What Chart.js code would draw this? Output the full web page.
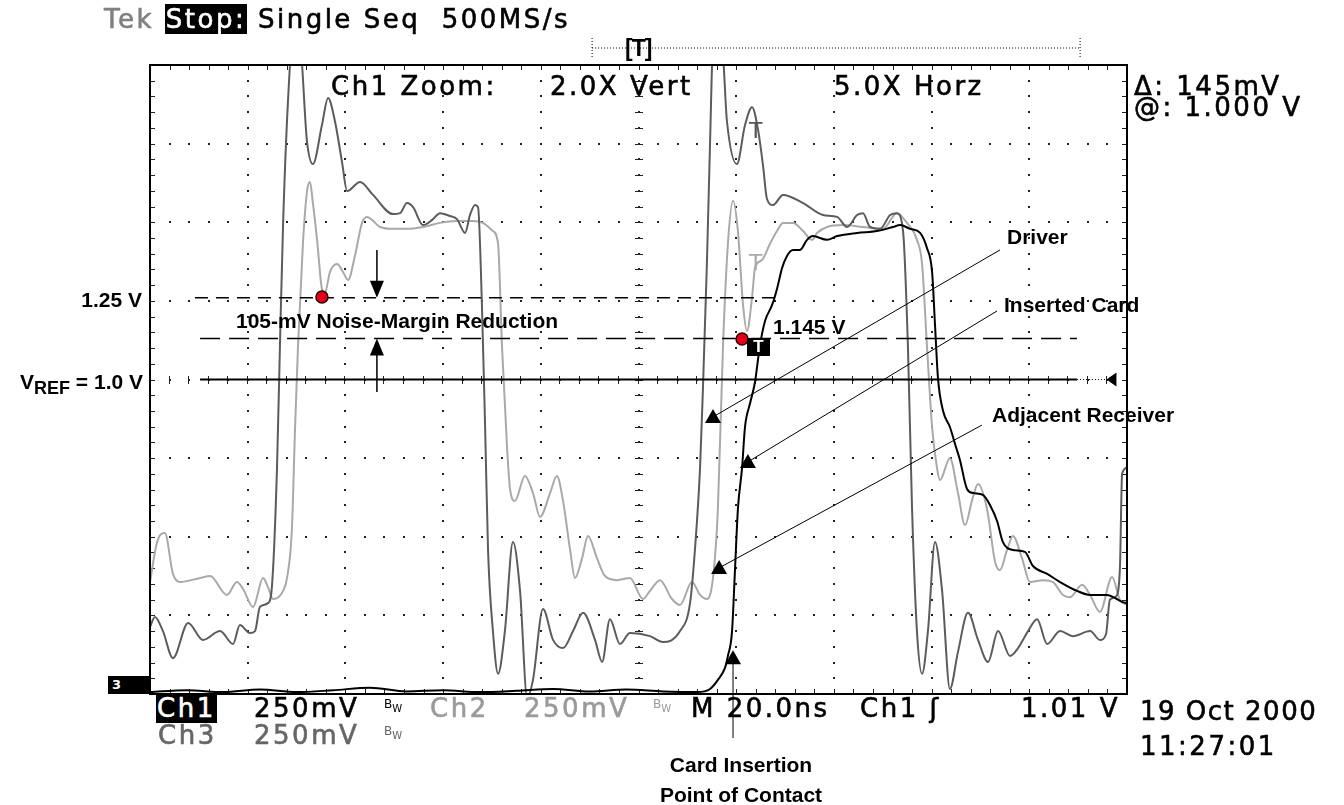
<!DOCTYPE html>
<html>
<head>
<meta charset="utf-8">
<script src="https://cdn.jsdelivr.net/npm/chart.js@4.4.1/dist/chart.umd.min.js"></script>
<style>
  body { margin: 0; background: #fff; }
  #wrap { position: relative; width: 1344px; height: 805px; overflow: hidden; }
  canvas { position: absolute; left: 0; top: 0; }
  .t { position: absolute; white-space: nowrap; line-height: 1; transform: translateY(-50%); }
  .scope { font-family: "DejaVu Sans"; font-size: 26px; letter-spacing: 2.5px; color: #000; -webkit-text-stroke: 0.6px currentColor; }
  .note { font-family: "Liberation Sans", Arial, sans-serif; font-weight: bold; font-size: 21px; color: #000; }
  .inv { background: #000; color: #fff; padding: 0 1px; }
  .bw { font-family: "DejaVu Sans"; font-size: 12px; letter-spacing: 0; }
  .bw sub { font-size: 10px; }
  .r { transform: translate(-100%, -50%); }
  .c { transform: translate(-50%, -50%); }
</style>
</head>
<body>
<div id="wrap">
  <canvas id="scope" width="1344" height="805"></canvas>

  <div class="t scope" style="left:104px;top:19px;"><span style="color:#808080">Tek</span> <span class="inv">Stop:</span> Single Seq&nbsp; 500MS/s</div>
  <div class="t note" style="left:625px;top:48px;font-size:23px;letter-spacing:-1px;">[T]</div>

  <div class="t scope" style="left:331px;top:86px;">Ch1 Zoom:</div>
  <div class="t scope" style="left:550px;top:86px;">2.0X Vert</div>
  <div class="t scope" style="left:834px;top:86px;">5.0X Horz</div>
  <div class="t scope" style="left:1134px;top:86px;">Δ: 145mV</div>
  <div class="t scope" style="left:1134px;top:107px;">@: 1.000 V</div>

  <div class="t scope" style="left:749px;top:131px;color:#555;letter-spacing:0;font-size:22px;-webkit-text-stroke:0;">T</div>
  <div class="t scope" style="left:749px;top:263px;color:#aaa;letter-spacing:0;font-size:22px;-webkit-text-stroke:0;">T</div>
  <div class="t" style="left:747px;top:347px;width:23px;height:18px;background:#000;color:#fff;font:bold 17px 'Liberation Sans';text-align:center;line-height:18px;">T</div>

  <div class="t note" style="left:1007px;top:236px;">Driver</div>
  <div class="t note" style="left:1004px;top:304px;">Inserted Card</div>
  <div class="t note" style="left:992px;top:414px;">Adjacent Receiver</div>
  <div class="t note" style="left:773px;top:326px;">1.145 V</div>
  <div class="t note r" style="left:142px;top:299px;">1.25 V</div>
  <div class="t note r" style="left:143px;top:384px;">V<sub style="font-size:18px;vertical-align:-5px">REF</sub> = 1.0 V</div>
  <div class="t note" style="left:236px;top:320px;">105-mV Noise-Margin Reduction</div>
  <div class="t note c" style="left:741px;top:764px;">Card Insertion</div>
  <div class="t note c" style="left:741px;top:794px;">Point of Contact</div>

  <div class="t" style="left:108px;top:685px;width:42px;height:18px;background:#000;color:#fff;font:bold 13px 'DejaVu Sans';line-height:18px;text-indent:4px;">3</div>

  <div class="t scope" style="left:156px;top:708px;"><span class="inv">Ch1</span></div>
  <div class="t scope" style="left:254px;top:708px;">250mV</div>
  <div class="t bw" style="left:384px;top:706px;">B<sub>W</sub></div>
  <div class="t scope" style="left:430px;top:708px;color:#9a9a9a;">Ch2</div>
  <div class="t scope" style="left:524px;top:708px;color:#9a9a9a;">250mV</div>
  <div class="t bw" style="left:653px;top:706px;color:#9a9a9a;">B<sub>W</sub></div>
  <div class="t scope" style="left:691px;top:708px;">M 20.0ns</div>
  <div class="t scope" style="left:860px;top:708px;">Ch1 ʃ</div>
  <div class="t scope" style="left:1021px;top:708px;">1.01 V</div>
  <div class="t scope" style="left:158px;top:735px;color:#666;">Ch3</div>
  <div class="t scope" style="left:254px;top:735px;color:#666;">250mV</div>
  <div class="t bw" style="left:384px;top:733px;color:#666;">B<sub>W</sub></div>

  <div class="t scope" style="left:1140px;top:711px;letter-spacing:1.5px;">19 Oct 2000</div>
  <div class="t scope" style="left:1140px;top:746px;">11:27:01</div>
</div>

<script>
// time in ns (4 ns/div after 5x zoom), voltage in V (0.25 V/div, centre = 1.0 V)
const timeTicks = [0, 4, 8, 12, 16, 20, 24, 28, 32, 36, 40];
const voltTicks = [0, 0.25, 0.5, 0.75, 1.0, 1.25, 1.5, 1.75, 2.0];

// Ch3 - driver
const driverTime = [0, 0.20, 0.53, 0.94, 1.56, 2.17, 2.87, 3.40, 3.68, 4.09, 4.30, 4.50, 4.83, 4.99, 5.20, 5.32, 5.45, 5.65, 5.81, 6.14,
  6.43, 6.67, 7.04, 7.29, 7.57, 7.86, 8.07, 8.60, 9.13, 9.95, 10.24, 10.52, 10.77, 11.18, 11.59, 11.87, 12.28, 12.57, 12.90, 13.10,
  13.31, 13.43, 13.59, 13.72, 13.84, 14.04, 14.25, 14.53, 14.86, 15.15, 15.44, 15.68, 16.09, 16.50, 16.91, 17.32, 17.73, 18.22, 18.51, 18.83,
  19.24, 19.65, 20.47, 21.00, 21.70, 22.11, 22.31, 22.52, 22.64, 22.80, 22.93, 23.05, 23.42, 23.62, 24.03, 24.36, 24.65, 24.89, 25.10, 25.26,
  25.51, 25.92, 26.74, 27.55, 28.13, 28.54, 28.95, 29.19, 29.48, 29.89, 30.30, 30.58, 30.83, 31.03, 31.20, 31.40, 31.61, 31.85, 32.14, 32.43,
  32.75, 33.08, 33.49, 33.90, 34.31, 34.72, 35.21, 35.54, 35.95, 36.32, 36.73, 37.26, 37.79, 38.49, 38.89, 39.14, 39.30, 39.55, 39.71, 39.80, 40.0];
const driverVolts = [0.213, 0.245, 0.200, 0.114, 0.226, 0.172, 0.200, 0.159, 0.219, 0.194, 0.200, 0.277, 0.289, 0.340, 0.719, 1.107, 1.498, 1.886, 2.05, 2.05,
  1.755, 1.685, 1.809, 1.895, 1.822, 1.692, 1.599, 1.628, 1.587, 1.526, 1.529, 1.561, 1.548, 1.491, 1.510, 1.529, 1.520, 1.510, 1.466, 1.523,
  1.555, 1.548, 1.237, 0.849, 0.458, 0.200, 0.064, 0.200, 0.483, 0.328, -0.01, 0.045, 0.270, 0.172, 0.146, 0.200, 0.258, 0.172, 0.102, 0.238,
  0.159, 0.194, 0.184, 0.165, 0.200, 0.289, 0.458, 0.719, 0.976, 1.367, 1.755, 2.05, 2.05, 1.822, 1.685, 1.809, 1.866, 1.796, 1.679, 1.574,
  1.555, 1.587, 1.561, 1.523, 1.517, 1.485, 1.523, 1.529, 1.485, 1.479, 1.523, 1.529, 1.472, 1.107, 0.588, 0.200, 0.064, 0.200, 0.483, 0.328,
  0.016, 0.134, 0.258, 0.172, 0.102, 0.200, 0.121, 0.146, 0.200, 0.238, 0.159, 0.200, 0.184, 0.200, 0.172, 0.190, 0.300, 0.310, 0.400, 0.700, 0.72];

// Ch2 - adjacent receiver
const receiverTime = [0, 0.29, 0.61, 0.94, 1.23, 2.05, 2.46, 3.15, 3.56, 3.81, 4.22, 4.63, 4.83, 5.04, 5.45, 5.61, 5.81, 5.94, 6.06, 6.26,
  6.43, 6.55, 6.67, 6.84, 7.04, 7.16, 7.37, 7.66, 7.90, 8.11, 8.39, 8.68, 8.88, 9.42, 9.95, 10.52, 11.18, 11.87, 12.57, 13.22,
  13.63, 14.04, 14.25, 14.41, 14.62, 14.74, 14.94, 15.35, 15.68, 15.97, 16.38, 16.66, 16.91, 17.20, 17.40, 17.69, 17.93, 18.30, 18.63, 19.12,
  19.65, 20.18, 20.47, 20.88, 21.37, 21.70, 22.19, 22.52, 22.80, 23.05, 23.25, 23.46, 23.66, 23.87, 24.07, 24.28, 24.44, 24.65, 24.77, 25.06,
  25.38, 25.67, 25.92, 26.33, 26.74, 27.10, 27.31, 27.72, 28.37, 29.19, 30.01, 30.58, 30.99, 31.40, 31.61, 31.81, 32.02, 32.22, 32.34, 32.75,
  33.08, 33.37, 33.65, 33.90, 34.27, 34.60, 34.80, 35.09, 35.33, 35.70, 36.03, 36.56, 36.97, 37.38, 37.67, 38.16, 38.49, 38.89, 39.39, 39.71, 40.0];
const receiverVolts = [0.356, 0.483, 0.512, 0.382, 0.356, 0.369, 0.375, 0.315, 0.356, 0.334, 0.277, 0.369, 0.340, 0.302, 0.328, 0.369, 0.525, 0.849, 1.107, 1.431,
  1.599, 1.628, 1.561, 1.444, 1.288, 1.275, 1.342, 1.367, 1.342, 1.316, 1.393, 1.498, 1.517, 1.485, 1.479, 1.479, 1.485, 1.498, 1.504, 1.504,
  1.498, 1.472, 1.431, 1.107, 0.782, 0.652, 0.614, 0.693, 0.639, 0.563, 0.639, 0.693, 0.614, 0.458, 0.369, 0.432, 0.502, 0.432, 0.375, 0.362,
  0.369, 0.302, 0.328, 0.362, 0.302, 0.283, 0.356, 0.315, 0.302, 0.369, 0.588, 1.107, 1.431, 1.568, 1.472, 1.237, 1.154, 1.262, 1.355, 1.380,
  1.431, 1.472, 1.498, 1.498, 1.472, 1.444, 1.466, 1.485, 1.491, 1.485, 1.479, 1.529, 1.498, 1.444, 1.367, 1.107, 0.849, 0.719, 0.680, 0.750,
  0.639, 0.537, 0.614, 0.668, 0.588, 0.420, 0.394, 0.458, 0.502, 0.432, 0.356, 0.362, 0.356, 0.315, 0.308, 0.347, 0.315, 0.261, 0.372, 0.299, 0.283];

// Ch1 - inserted card
const cardTime = [0, 1.5, 3.0, 4.5, 6.0, 7.5, 9.0, 10.5, 12.0, 13.5, 15.0, 16.5, 18.0, 19.5, 21.0, 22.40, 22.93, 23.25, 23.54, 23.66,
  23.83, 23.95, 24.07, 24.24, 24.36, 24.57, 24.77, 24.97, 25.18, 25.47, 25.67, 25.88, 26.08, 26.33, 26.61, 26.90, 27.14, 27.72, 28.13, 28.95,
  29.77, 30.42, 30.71, 31.12, 31.53, 31.81, 32.02, 32.14, 32.26, 32.47, 32.75, 32.96, 33.16, 33.45, 33.70, 34.10, 34.39, 34.68, 34.92, 35.33,
  35.82, 36.15, 36.73, 37.26, 37.95, 38.49, 39.18, 39.80, 40.0];
const cardVolts = [0.006, 0.012, 0.006, 0.014, 0.006, 0.012, 0.020, 0.008, 0.012, 0.006, 0.010, 0.016, 0.008, 0.014, 0.008, 0.006, 0.016, 0.045, 0.083, 0.121,
  0.200, 0.394, 0.588, 0.719, 0.849, 0.925, 0.992, 1.107, 1.186, 1.237, 1.288, 1.355, 1.393, 1.412, 1.412, 1.444, 1.456, 1.444, 1.456, 1.466,
  1.472, 1.485, 1.491, 1.479, 1.466, 1.418, 1.342, 1.173, 1.005, 0.900, 0.849, 0.795, 0.744, 0.652, 0.639, 0.633, 0.601, 0.550, 0.483, 0.458,
  0.452, 0.407, 0.382, 0.356, 0.328, 0.315, 0.315, 0.293, 0.289];

// annotation levels and markers
const refLevel = 1.0;
const marginLevels = [1.26, 1.13];          // dashed cursor lines
const marginSpans = [[1.84, 25.8], [2.05, 37.95]];
const cursorDots = [[7.04, 1.262], [24.24, 1.129]];
const leaderTips = [[23.05, 0.881], [24.48, 0.738], [23.30, 0.401], [23.87, 0.114]];
const leaderEnds = [[34.80, 1.412], [34.68, 1.218], [34.06, 0.855], [23.87, -0.14]];
const marginArrowTime = 9.29;

const pts = (ts, vs) => ts.map((t, i) => ({ x: t, y: vs[i] }));

const graticule = {
  id: 'graticule',
  beforeDatasetsDraw(chart) {
    const { ctx, chartArea: a, scales: { x, y } } = chart;
    const dx = (a.right - a.left) / 50, dy = (a.bottom - a.top) / 40;
    ctx.save();
    ctx.fillStyle = '#222';
    timeTicks.slice(1, -1).forEach(t => {
      const px = Math.round(x.getPixelForValue(t));
      for (let k = 0; k <= 40; k++) ctx.fillRect(px - 1, Math.round(a.top + k * dy) - 1, 2, 2);
    });
    voltTicks.slice(1, -1).forEach(v => {
      const py = Math.round(y.getPixelForValue(v));
      for (let k = 0; k <= 50; k++) ctx.fillRect(Math.round(a.left + k * dx) - 1, py - 1, 2, 2);
    });
    const cx = Math.round(x.getPixelForValue(20)), cy = Math.round(y.getPixelForValue(1));
    for (let k = 0; k <= 50; k++) ctx.fillRect(Math.round(a.left + k * dx) - 1, cy - 4, 1, 8);
    for (let k = 0; k <= 40; k++) ctx.fillRect(cx - 4, Math.round(a.top + k * dy), 8, 1);
    // border ticks
    for (let k = 1; k < 50; k++) {
      const px = Math.round(a.left + k * dx);
      ctx.fillRect(px, a.top, 1, 5);
      ctx.fillRect(px, a.bottom - 5, 1, 5);
    }
    for (let k = 1; k < 40; k++) {
      const py = Math.round(a.top + k * dy);
      ctx.fillRect(a.left, py, 5, 1);
      ctx.fillRect(a.right - 5, py, 5, 1);
    }
    ctx.restore();
  },
  afterDatasetsDraw(chart) {
    const { ctx, chartArea: a, scales: { x, y } } = chart;
    const P = (t, v) => [x.getPixelForValue(t), y.getPixelForValue(v)];
    ctx.save();
    ctx.strokeStyle = '#000';
    ctx.fillStyle = '#000';

    // frame
    ctx.lineWidth = 2;
    ctx.strokeRect(a.left, a.top, a.right - a.left, a.bottom - a.top);

    // dashed cursor lines
    ctx.lineWidth = 1.5;
    marginLevels.forEach((v, i) => {
      ctx.setLineDash(i === 0 ? [13, 8] : [20, 9]);
      const [x0, y0] = P(marginSpans[i][0], v), [x1] = P(marginSpans[i][1], v);
      ctx.beginPath(); ctx.moveTo(x0, y0); ctx.lineTo(x1, y0); ctx.stroke();
    });
    ctx.setLineDash([]);

    // VREF line + trigger level marker
    const [rx0, ry] = P(2.05, refLevel), [rx1] = P(37.95, refLevel), [rx2] = P(39.2, refLevel);
    ctx.lineWidth = 2;
    ctx.beginPath(); ctx.moveTo(rx0, ry); ctx.lineTo(rx1, ry); ctx.stroke();
    ctx.lineWidth = 1;
    ctx.setLineDash([1, 2]);
    ctx.beginPath(); ctx.moveTo(rx1, ry); ctx.lineTo(rx2, ry); ctx.stroke();
    ctx.setLineDash([]);
    ctx.beginPath(); ctx.moveTo(rx2 - 1, ry); ctx.lineTo(rx2 + 9, ry - 7); ctx.lineTo(rx2 + 9, ry + 7); ctx.closePath(); ctx.fill();

    // noise-margin arrows
    const [ax, aTop] = P(marginArrowTime, 1.412), [, aHi] = P(marginArrowTime, marginLevels[0]);
    const [, aLo] = P(marginArrowTime, marginLevels[1]), [, aBot] = P(marginArrowTime, 0.960);
    ctx.lineWidth = 1.5;
    ctx.beginPath(); ctx.moveTo(ax, aTop); ctx.lineTo(ax, aHi - 14); ctx.moveTo(ax, aLo + 14); ctx.lineTo(ax, aBot); ctx.stroke();
    ctx.beginPath(); ctx.moveTo(ax, aHi); ctx.lineTo(ax - 7, aHi - 17); ctx.lineTo(ax + 7, aHi - 17); ctx.closePath(); ctx.fill();
    ctx.beginPath(); ctx.moveTo(ax, aLo); ctx.lineTo(ax - 7, aLo + 17); ctx.lineTo(ax + 7, aLo + 17); ctx.closePath(); ctx.fill();

    // leader lines with triangle heads
    ctx.lineWidth = 1;
    leaderTips.forEach((tp, i) => {
      const [tx, ty] = P(tp[0], tp[1]), [ex, ey] = P(leaderEnds[i][0], leaderEnds[i][1]);
      ctx.beginPath(); ctx.moveTo(tx, ty); ctx.lineTo(ex, ey); ctx.stroke();
      ctx.beginPath(); ctx.moveTo(tx, ty - 8); ctx.lineTo(tx - 8, ty + 6); ctx.lineTo(tx + 8, ty + 6); ctx.closePath(); ctx.fill();
    });

    // cursor dots
    cursorDots.forEach(([t, v]) => {
      const [px, py] = P(t, v);
      ctx.beginPath(); ctx.arc(px, py, 6, 0, Math.PI * 2);
      ctx.fillStyle = '#e3001b'; ctx.fill();
      ctx.strokeStyle = '#300'; ctx.lineWidth = 1.5; ctx.stroke();
    });

    // record window bracket above the screen
    ctx.fillStyle = '#000';
    ctx.strokeStyle = '#000';
    ctx.lineWidth = 1;
    ctx.setLineDash([1, 2]);
    const [bx0] = P(18.1, 0), [bx1] = P(38.08, 0), by = a.top - 17;
    ctx.beginPath();
    ctx.moveTo(bx0, by); ctx.lineTo(bx1, by);
    ctx.moveTo(bx0, by - 10); ctx.lineTo(bx0, by + 10);
    ctx.moveTo(bx1, by - 10); ctx.lineTo(bx1, by + 10);
    ctx.stroke();
    ctx.restore();
  }
};

new Chart(document.getElementById('scope'), {
  type: 'line',
  data: {
    datasets: [
      { label: 'Inserted Card', data: pts(cardTime, cardVolts), borderColor: '#000', borderWidth: 2 },
      { label: 'Driver', data: pts(driverTime, driverVolts), borderColor: '#5c5c5c', borderWidth: 2 },
      { label: 'Adjacent Receiver', data: pts(receiverTime, receiverVolts), borderColor: '#a9a9a9', borderWidth: 2 }
    ]
  },
  options: {
    responsive: false,
    animation: false,
    layout: { padding: { left: 150, top: 65, right: 217, bottom: 111 } },
    elements: {
      point: { radius: 0 },
      line: { cubicInterpolationMode: 'monotone', fill: false }
    },
    datasets: { line: { clip: 0 } },
    plugins: { legend: { display: false }, tooltip: { enabled: false } },
    scales: {
      x: { type: 'linear', min: 0, max: 40, display: false },
      y: { min: 0, max: 2, display: false }
    }
  },
  plugins: [graticule]
});
</script>
</body>
</html>
